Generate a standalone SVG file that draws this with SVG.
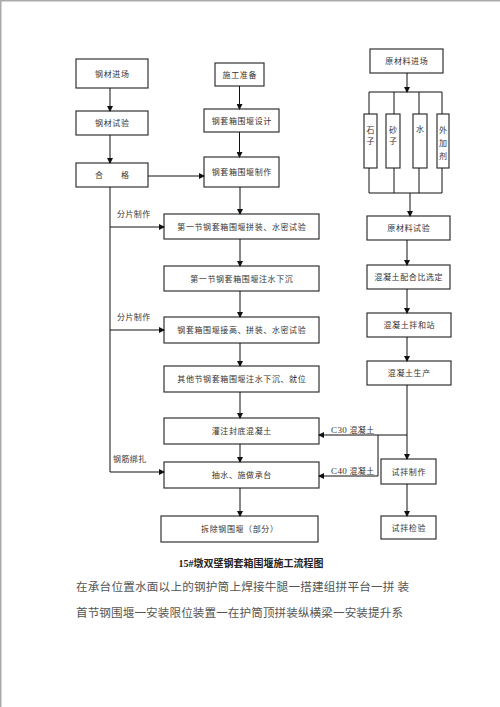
<svg xmlns="http://www.w3.org/2000/svg" width="500" height="707" viewBox="0 0 500 707">
<defs>
<marker id="ah" markerWidth="6" markerHeight="6" refX="5" refY="3" orient="auto" markerUnits="userSpaceOnUse">
<path d="M0,0 L6,3 L0,6 Z" fill="#111"/>
</marker>
<style>
.box{fill:#fff;stroke:#333;stroke-width:1.2}
.t{font-family:"Noto Sans CJK SC","Liberation Serif",serif;font-size:8px;fill:#333;text-anchor:middle;letter-spacing:0.6px}
.tv{font-family:"Noto Sans CJK SC","Liberation Serif",serif;font-size:8px;fill:#333;text-anchor:middle}
.lbl{font-family:"Noto Sans CJK SC","Liberation Serif",serif;font-size:8px;fill:#333;letter-spacing:0.4px}
.ln{fill:none;stroke:#111;stroke-width:1}
.ar{fill:none;stroke:#111;stroke-width:1;marker-end:url(#ah)}
.body{font-family:"Noto Sans CJK SC",serif;font-size:11.6px;fill:#555}
</style>
</defs>
<rect x="0" y="0" width="500" height="707" fill="#fff"/>
<path d="M0.75,707 V0.75 H500" fill="none" stroke="#aaa" stroke-width="1.5"/>

<g id="n-gangcai-jinchang"><rect class="box" x="76" y="59" width="72" height="29"/><text class="t" x="112.3" y="76.5">钢材进场</text></g>
<g id="n-gangcai-shiyan"><rect class="box" x="76" y="111" width="72" height="24"/><text class="t" x="112.3" y="126">钢材试验</text></g>
<g id="n-hege"><rect class="box" x="76" y="163" width="72" height="24"/><text class="t" x="112.3" y="178">合　　格</text></g>

<g id="n-shigong-zhunbei"><rect class="box" x="215" y="63" width="49" height="23"/><text class="t" x="239.8" y="77.5">施工准备</text></g>
<g id="n-sheji"><rect class="box" x="204" y="109" width="75" height="23"/><text class="t" x="241.8" y="123.5">钢套箱围堰设计</text></g>
<g id="n-zhizuo"><rect class="box" x="204" y="157" width="75" height="30"/><text class="t" x="241.8" y="175">钢套箱围堰制作</text></g>

<g id="n-diyijie-pinzhuang"><rect class="box" x="164" y="214" width="155" height="25"/><text class="t" x="241.8" y="229.5">第一节钢套箱围堰拼装、水密试验</text></g>
<g id="n-diyijie-xiachen"><rect class="box" x="164" y="266" width="155" height="25"/><text class="t" x="241.8" y="281.5">第一节钢套箱围堰注水下沉</text></g>
<g id="n-jiegao"><rect class="box" x="164" y="317" width="155" height="26"/><text class="t" x="241.8" y="333">钢套箱围堰接高、拼装、水密试验</text></g>
<g id="n-qitajie"><rect class="box" x="164" y="366" width="155" height="26"/><text class="t" x="241.8" y="382">其他节钢套箱围堰注水下沉、就位</text></g>
<g id="n-fengdi"><rect class="box" x="164" y="418" width="155" height="26"/><text class="t" x="241.8" y="434">灌注封底混凝土</text></g>
<g id="n-chengtai"><rect class="box" x="164" y="462" width="155" height="26"/><text class="t" x="241.8" y="478">抽水、施做承台</text></g>
<g id="n-chaichu"><rect class="box" x="161" y="516" width="157" height="26"/><text class="t" x="239.8" y="532">拆除钢围堰（部分）</text></g>

<g id="n-yuancailiao-jinchang"><rect class="box" x="370" y="49" width="73" height="24"/><text class="t" x="406.8" y="64">原材料进场</text></g>
<g id="n-shizi"><rect class="box" x="364" y="114" width="13" height="54"/><text class="tv" x="370.5" y="133">石</text><text class="tv" x="370.5" y="144">子</text></g>
<g id="n-shazi"><rect class="box" x="386" y="114" width="14" height="54"/><text class="tv" x="393" y="133">砂</text><text class="tv" x="393" y="144">子</text></g>
<g id="n-shui"><rect class="box" x="413" y="114" width="14" height="54"/><text class="tv" x="420" y="132">水</text></g>
<g id="n-waijiaji"><rect class="box" x="437" y="114" width="12" height="54"/><text class="tv" x="443" y="133">外</text><text class="tv" x="443" y="146">加</text><text class="tv" x="443" y="159">剂</text></g>
<g id="n-yuancailiao-shiyan"><rect class="box" x="367" y="216" width="83" height="24"/><text class="t" x="408.8" y="231">原材料试验</text></g>
<g id="n-peihebi"><rect class="box" x="367" y="265" width="83" height="24"/><text class="t" x="408.8" y="280">混凝土配合比选定</text></g>
<g id="n-banhezhan"><rect class="box" x="367" y="313" width="84" height="24"/><text class="t" x="409.3" y="328">混凝土拌和站</text></g>
<g id="n-shengchan"><rect class="box" x="367" y="361" width="84" height="24"/><text class="t" x="409.3" y="376">混凝土生产</text></g>
<g id="n-shiban-zhizuo"><rect class="box" x="381" y="459" width="55" height="25"/><text class="t" x="408.8" y="474.5">试拌制作</text></g>
<g id="n-shiban-jianyan"><rect class="box" x="381" y="516" width="55" height="23"/><text class="t" x="408.8" y="530.5">试拌检验</text></g>

<g id="connectors">
<line class="ar" x1="110" y1="88" x2="110" y2="111"/>
<line class="ar" x1="110" y1="135" x2="110" y2="163"/>
<line class="ar" x1="148" y1="176" x2="204" y2="176"/>
<line class="ar" x1="239.5" y1="86" x2="239.5" y2="109"/>
<line class="ar" x1="239.5" y1="132" x2="239.5" y2="157"/>
<line class="ar" x1="240" y1="187" x2="240" y2="214"/>
<line class="ar" x1="240" y1="239" x2="240" y2="266"/>
<line class="ar" x1="240" y1="291" x2="240" y2="317"/>
<line class="ar" x1="240" y1="343" x2="240" y2="366"/>
<line class="ar" x1="240" y1="392" x2="240" y2="418"/>
<line class="ar" x1="240" y1="444" x2="240" y2="462"/>
<line class="ar" x1="240" y1="488" x2="240" y2="516"/>
<path class="ln" d="M110,187 V472"/>
<line class="ar" x1="110" y1="227" x2="164" y2="227"/>
<line class="ar" x1="110" y1="330" x2="164" y2="330"/>
<line class="ar" x1="110" y1="472" x2="164" y2="472"/>

<line class="ar" x1="407" y1="73" x2="407" y2="92"/>
<path class="ln" d="M369,92 H442 M369,92 V114 M394,92 V114 M419,92 V114 M442,92 V114"/>
<path class="ln" d="M369,168 V193 M394,168 V193 M419,168 V193 M442,168 V193 M369,193 H442"/>
<line class="ar" x1="410" y1="193" x2="410" y2="216"/>
<line class="ar" x1="407" y1="240" x2="407" y2="265"/>
<line class="ar" x1="407" y1="289" x2="407" y2="313"/>
<line class="ar" x1="407" y1="337" x2="407" y2="361"/>
<line class="ar" x1="407" y1="385" x2="407" y2="459"/>
<line class="ar" x1="407" y1="435" x2="319" y2="435"/>
<path class="ln" d="M378,435 V476"/>
<line class="ar" x1="378" y1="476" x2="319" y2="476"/>
<line class="ar" x1="407" y1="484" x2="407" y2="516"/>
</g>

<g id="labels">
<text class="lbl" x="117" y="217">分片制作</text>
<text class="lbl" x="117" y="320">分片制作</text>
<text class="lbl" x="113" y="462">钢筋绑扎</text>
<text class="lbl" x="331" y="433"><tspan font-family="Liberation Serif" font-size="9">C30</tspan> 混凝土</text>
<text class="lbl" x="331" y="474"><tspan font-family="Liberation Serif" font-size="9">C40</tspan> 混凝土</text>
</g>

<text x="251" y="567" text-anchor="middle" font-family="Liberation Serif,Noto Sans CJK SC,serif" font-size="10" font-weight="bold" fill="#222">15#墩双壁钢套箱围堰施工流程图</text>
<text class="body" x="76" y="591" textLength="333" lengthAdjust="spacing">在承台位置水面以上的钢护筒上焊接牛腿一搭建组拼平台一拼 装</text>
<text class="body" x="76" y="617" textLength="327" lengthAdjust="spacing">首节钢围堰一安装限位装置一在护筒顶拼装纵横梁一安装提升系</text>
</svg>
